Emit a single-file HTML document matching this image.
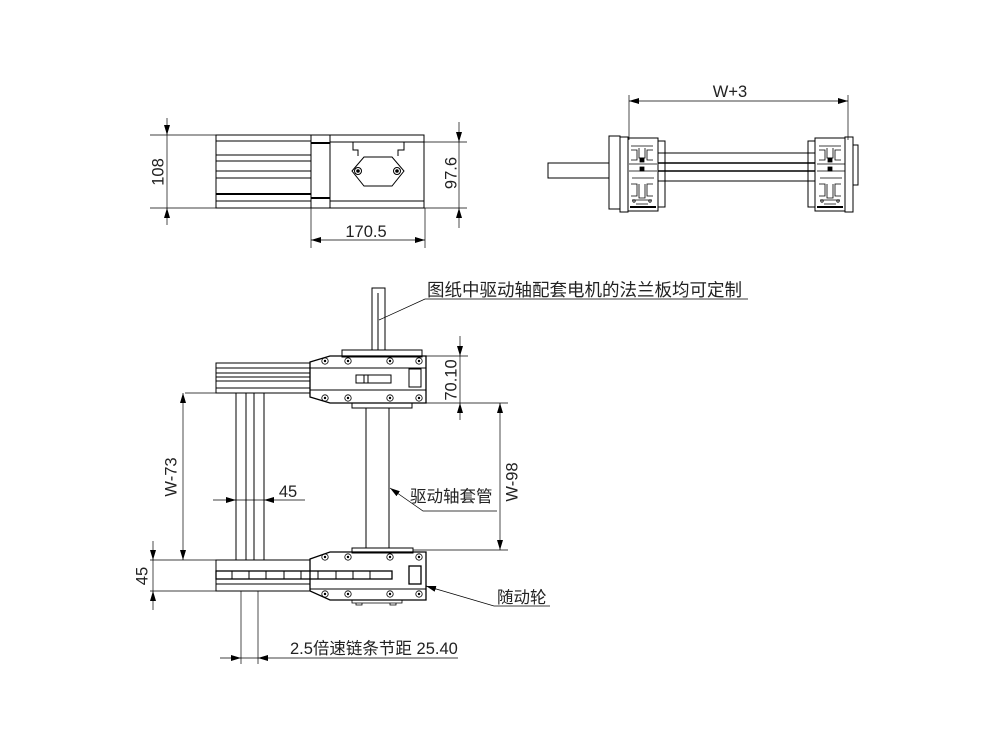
<!DOCTYPE html>
<html><head><meta charset="utf-8"><style>
html,body{margin:0;padding:0;background:#fff;}
svg{display:block;}
text{font-family:"Liberation Sans","Noto Sans CJK SC",sans-serif;fill:#222;}
</style></head><body>
<svg width="1000" height="750" viewBox="0 0 1000 750" xmlns="http://www.w3.org/2000/svg">
<defs>
<marker id="a" viewBox="0 0 10 6" refX="10" refY="3" markerWidth="10" markerHeight="6" orient="auto-start-reverse" markerUnits="userSpaceOnUse"><path d="M0,0 L10,3 L0,6 z" fill="#000"/></marker>
<g id="scr"><circle r="3.2" fill="none" stroke="#000" stroke-width="0.8"/><circle r="1.2" fill="#000"/></g>
<g id="blk" fill="none" stroke="#000" stroke-width="0.8">
<path d="M3,8 h22 M3,12 h6 v10 h-6 M25,12 h-6 v10 h6 M11,10 v10 h6 v-10"/>
<path d="M1,26 h28 M1,33 h28 M4,40 h22"/>
<rect x="12" y="20" width="4" height="4" fill="#000"/>
<rect x="12" y="29" width="4" height="4" fill="#000"/>
<path d="M3,46 h6 v12 h-6 M25,46 h-6 v12 h6 M11,46 v14 h6 v-14"/>
<path d="M4,62 h20 M8,66 h12"/>
<circle cx="6" cy="63" r="1.2"/><circle cx="22" cy="63" r="1.2"/>
</g>
</defs>
<g fill="none" stroke="#000" stroke-width="1">
<!-- ===== TOP LEFT VIEW ===== -->
<rect x="216" y="135" width="95" height="73"/>
<line x1="216" y1="141" x2="311" y2="141"/>
<line x1="216" y1="155" x2="311" y2="155"/>
<line x1="216" y1="161" x2="311" y2="161"/>
<line x1="216" y1="171" x2="311" y2="171"/>
<line x1="216" y1="178" x2="311" y2="178"/>
<line x1="216" y1="194" x2="311" y2="194" stroke-width="2"/>
<line x1="216" y1="201" x2="311" y2="201"/>
<rect x="311" y="135" width="19" height="73"/>
<line x1="311" y1="143" x2="330" y2="143" stroke-width="2"/>
<line x1="311" y1="198" x2="330" y2="198" stroke-width="2"/>
<rect x="330" y="135" width="94" height="73"/>
<line x1="330" y1="142" x2="424" y2="142"/>
<line x1="330" y1="201" x2="424" y2="201"/>
<path d="M353,142 L353,150 L358,150 L358,156 M404,142 L404,150 L398,150 L398,156"/>
<path d="M352,171 L364,157 L392,157 L404,171 L392,186 L364,186 Z"/>
<circle cx="358" cy="171" r="3.5"/><circle cx="358" cy="171" r="1.3" fill="#000"/>
<circle cx="397" cy="171" r="3.5"/><circle cx="397" cy="171" r="1.3" fill="#000"/>
<!-- dims -->
<line x1="150" y1="135" x2="216" y2="135" stroke-width="0.7"/>
<line x1="150" y1="208" x2="216" y2="208" stroke-width="0.7"/>
<line x1="167" y1="118" x2="167" y2="135" stroke-width="0.7" marker-end="url(#a)"/>
<line x1="167" y1="225" x2="167" y2="208" stroke-width="0.7" marker-end="url(#a)"/>
<line x1="167" y1="135" x2="167" y2="208" stroke-width="0.7"/>
<line x1="424" y1="142" x2="467" y2="142" stroke-width="0.7"/>
<line x1="424" y1="208" x2="467" y2="208" stroke-width="0.7"/>
<line x1="459" y1="122" x2="459" y2="142" stroke-width="0.7" marker-end="url(#a)"/>
<line x1="459" y1="228" x2="459" y2="208" stroke-width="0.7" marker-end="url(#a)"/>
<line x1="459" y1="142" x2="459" y2="208" stroke-width="0.7"/>
<line x1="311" y1="208" x2="311" y2="248" stroke-width="0.7"/>
<line x1="425" y1="208" x2="425" y2="248" stroke-width="0.7"/>
<line x1="311" y1="240" x2="425" y2="240" stroke-width="0.7" marker-start="url(#a)" marker-end="url(#a)"/>

<!-- ===== TOP RIGHT VIEW ===== -->
<line x1="629" y1="95" x2="629" y2="140" stroke-width="0.7"/>
<line x1="848" y1="95" x2="848" y2="140" stroke-width="0.7"/>
<line x1="629" y1="101" x2="848" y2="101" stroke-width="0.7" marker-start="url(#a)" marker-end="url(#a)"/>
<rect x="548" y="163" width="61" height="15"/>
<rect x="609" y="136" width="11" height="73"/>
<rect x="620" y="137" width="8" height="75"/>
<rect x="628" y="138" width="30" height="73"/>
<rect x="658" y="141" width="7" height="66"/>
<rect x="808" y="141" width="7" height="66"/>
<rect x="815" y="138" width="30" height="73"/>
<rect x="845" y="137" width="8" height="75"/>
<rect x="853" y="145" width="5" height="40"/>
<line x1="658" y1="153" x2="815" y2="153"/>
<line x1="658" y1="163" x2="815" y2="163" stroke-width="1.5"/>
<line x1="658" y1="171" x2="815" y2="171" stroke-width="1.5"/>
<line x1="658" y1="181" x2="815" y2="181"/>
<path d="M630,207 h26 M817,207 h26" stroke-width="2"/>
</g>
<use href="#blk" x="628" y="138"/>
<use href="#blk" x="816" y="138"/>

<g fill="none" stroke="#000" stroke-width="1">
<!-- ===== MAIN VIEW ===== -->
<rect x="372" y="288" width="13" height="62"/>
<line x1="378" y1="293" x2="378" y2="350"/>
<rect x="342" y="350" width="80" height="7"/>
<rect x="216" y="363" width="94" height="30"/>
<line x1="216" y1="368" x2="310" y2="368"/>
<line x1="216" y1="373" x2="310" y2="373"/>
<line x1="216" y1="377" x2="310" y2="377"/>
<line x1="216" y1="381" x2="310" y2="381"/>
<line x1="216" y1="388" x2="310" y2="388"/>
<line x1="185" y1="393" x2="216" y2="393" stroke-width="0.7"/>
<path d="M310,362 L330,356 L426,356 L426,403 L330,403 L310,397 Z" stroke-width="1.3"/>
<line x1="310" y1="368" x2="426" y2="368"/>
<line x1="310" y1="390" x2="426" y2="390"/>
<rect x="356" y="375" width="35" height="8"/>
<line x1="364" y1="375" x2="364" y2="383"/><line x1="368" y1="375" x2="368" y2="383"/>
<rect x="409" y="369" width="12" height="18"/>
<rect x="352" y="403" width="60" height="5"/>
<line x1="236" y1="393" x2="236" y2="560"/>
<line x1="246" y1="393" x2="246" y2="560"/>
<line x1="254" y1="393" x2="254" y2="560"/>
<line x1="264" y1="393" x2="264" y2="560"/>
<line x1="366" y1="408" x2="366" y2="548"/>
<line x1="389" y1="408" x2="389" y2="548"/>
<rect x="352" y="548" width="61" height="5"/>
<rect x="216" y="560" width="94" height="31"/>
<path d="M310,559 L330,552 L426,552 L426,600 L330,600 L310,591 Z" stroke-width="1.3"/>
<rect x="216" y="571" width="176" height="8" stroke-width="1.3"/>
<path d="M232,571v8 M249,571v8 M266,571v8 M284,571v8 M301,571v8 M318,571v8 M336,571v8 M353,571v8 M370,571v8" />
<line x1="216" y1="584" x2="310" y2="584"/>
<line x1="310" y1="589" x2="426" y2="589"/>
<rect x="409" y="566" width="12" height="18" stroke-width="1.3"/>
<path d="M352,600 v3 h50 v-3 M356,603 v2 h6 v-2 M390,603 v2 h6 v-2" stroke-width="0.8"/>
<line x1="150" y1="560" x2="216" y2="560" stroke-width="0.7"/>
<line x1="150" y1="591" x2="216" y2="591" stroke-width="0.7"/>
<line x1="241" y1="591" x2="241" y2="664" stroke-width="0.7"/>
<line x1="258" y1="591" x2="258" y2="664" stroke-width="0.7"/>
</g>
<use href="#scr" x="325" y="361"/><use href="#scr" x="348" y="361"/><use href="#scr" x="390" y="361"/><use href="#scr" x="419" y="361"/>
<use href="#scr" x="325" y="398"/><use href="#scr" x="348" y="398"/><use href="#scr" x="390" y="398"/><use href="#scr" x="419" y="398"/>
<use href="#scr" x="325" y="557"/><use href="#scr" x="348" y="557"/><use href="#scr" x="390" y="557"/><use href="#scr" x="419" y="557"/>
<use href="#scr" x="325" y="594"/><use href="#scr" x="348" y="594"/><use href="#scr" x="390" y="594"/><use href="#scr" x="419" y="594"/>

<g fill="none" stroke="#000" stroke-width="0.7">
<line x1="426" y1="356" x2="468" y2="356"/>
<line x1="426" y1="403" x2="508" y2="403"/>
<line x1="460" y1="336" x2="460" y2="356" marker-end="url(#a)"/>
<line x1="460" y1="420" x2="460" y2="403" marker-end="url(#a)"/>
<line x1="460" y1="356" x2="460" y2="403"/>
<line x1="413" y1="550" x2="508" y2="550"/>
<line x1="500" y1="403" x2="500" y2="550" marker-start="url(#a)" marker-end="url(#a)"/>
<line x1="183" y1="393" x2="183" y2="560" marker-start="url(#a)" marker-end="url(#a)"/>
<line x1="153" y1="541" x2="153" y2="560" marker-end="url(#a)"/>
<line x1="153" y1="610" x2="153" y2="591" marker-end="url(#a)"/>
<line x1="153" y1="560" x2="153" y2="591"/>
<line x1="213" y1="500" x2="236" y2="500" marker-end="url(#a)"/>
<line x1="305" y1="500" x2="264" y2="500" marker-end="url(#a)"/>
<line x1="236" y1="500" x2="264" y2="500"/>
<line x1="220" y1="658" x2="241" y2="658" marker-end="url(#a)"/>
<line x1="458" y1="658" x2="258" y2="658" marker-end="url(#a)"/>
<line x1="241" y1="658" x2="258" y2="658"/>
<path d="M379,320 L425,299 L748,299"/>
<path d="M390,488 L423,511 L497,511" marker-start="url(#a)"/>
<path d="M426,586 L494,606 L550,606"/>
<path d="M426,586 L436,589" marker-end="url(#a)" transform="rotate(180 431 587.5)"/>
</g>

<g font-size="16.5">
<text x="159" y="172" text-anchor="middle" transform="rotate(-90 159 172)" dominant-baseline="middle">108</text>
<text x="452" y="173" text-anchor="middle" transform="rotate(-90 452 173)" dominant-baseline="middle">97.6</text>
<text x="366" y="237" text-anchor="middle">170.5</text>
<text x="730" y="97" text-anchor="middle">W+3</text>
<text x="427" y="296" font-size="17.5">图纸中驱动轴配套电机的法兰板均可定制</text>
<text x="452" y="380" text-anchor="middle" transform="rotate(-90 452 380)" dominant-baseline="middle">70.10</text>
<text x="410" y="502">驱动轴套管</text>
<text x="513" y="482" text-anchor="middle" transform="rotate(-90 513 482)" dominant-baseline="middle">W-98</text>
<text x="172" y="477" text-anchor="middle" transform="rotate(-90 172 477)" dominant-baseline="middle">W-73</text>
<text x="288" y="497" text-anchor="middle">45</text>
<text x="143" y="576" text-anchor="middle" transform="rotate(-90 143 576)" dominant-baseline="middle">45</text>
<text x="497" y="603">随动轮</text>
<text x="290" y="654">2.5倍速链条节距 25.40</text>
</g>
</svg>
</body></html>
